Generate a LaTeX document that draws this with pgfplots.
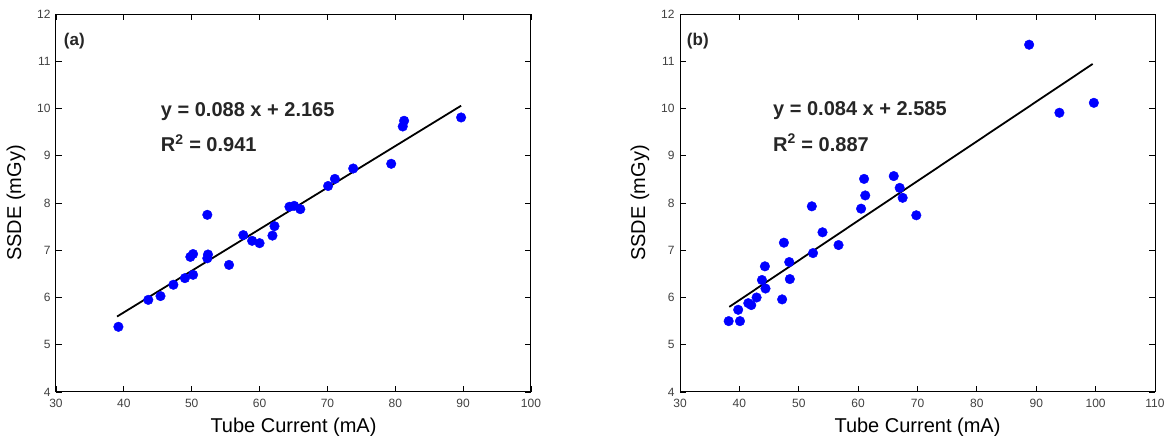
\documentclass[border=0pt]{standalone}
\usepackage{pgfplots}
\pgfplotsset{compat=1.18}
\usepackage{fontspec}
\setmainfont{Liberation Sans}

\pgfplotstableread{
x y
39.2 5.38
43.6 5.95
45.4 6.03
47.3 6.27
49.0 6.41
50.2 6.48
49.8 6.86
50.2 6.92
52.3 7.75
52.3 6.83
52.4 6.91
55.5 6.69
57.6 7.32
58.9 7.20
60.0 7.15
61.9 7.31
62.2 7.51
64.4 7.92
65.1 7.94
66.0 7.87
70.1 8.36
71.1 8.51
73.8 8.73
79.4 8.83
81.1 9.62
81.3 9.74
89.7 9.81
}\dataA

\pgfplotstableread{
x y
38.2 5.50
39.8 5.74
40.1 5.50
41.5 5.88
42.0 5.84
42.9 6.00
43.8 6.37
44.3 6.66
44.4 6.19
47.2 5.96
47.5 7.16
48.4 6.75
48.5 6.39
52.2 7.93
52.4 6.94
54.0 7.38
56.7 7.11
60.5 7.88
61.0 8.51
61.2 8.16
66.0 8.57
67.0 8.32
67.5 8.11
69.8 7.74
88.8 11.35
93.9 9.91
99.7 10.12
}\dataB

% linear fits
\pgfplotstableread{
x y
39.0 5.597
89.7 10.059
}\fitA
\pgfplotstableread{
x y
38.3 5.802
99.5 10.943
}\fitB

\pgfplotsset{
  panel/.style={
    scale only axis,
    width=475pt, height=378pt,
    ymin=4, ymax=12, ytick={4,5,...,12},
    tick align=inside,
    xtick pos=both, ytick pos=both,
    major tick length=6pt,
    tick style={black, line width=0.8pt},
    axis line style={black, line width=1pt},
    /pgf/number format/assume math mode=true,
    ticklabel style={font=\fontsize{12}{14}\selectfont, text=black!75},
    xticklabel style={yshift=-4pt},
    yticklabel style={xshift=-2pt},
    xlabel={Tube Current (mA)},
    ylabel={SSDE (mGy)},
    label style={font=\fontsize{20}{22}\selectfont},
    xlabel style={at={(axis description cs:0.5,0)}, anchor=base, yshift=-41pt},
    ylabel style={at={(axis description cs:0,0.5)}, anchor=center, rotate=0, yshift=40pt},
  },
  pts/.style={only marks, mark=*, mark size=4.8pt, blue, mark options={draw=blue, fill=blue}},
  fit/.style={black, line width=1.8pt, no marks},
}
\tikzset{
  eq/.style={anchor=base west, font=\fontsize{20}{22}\selectfont\bfseries, text=black!85},
  tag/.style={anchor=center, font=\fontsize{17}{19}\selectfont\bfseries, text=black!85},
}

\begin{document}
\begin{tikzpicture}[x=1pt,y=1pt]
\useasboundingbox (0,0) rectangle (1171,436);

\begin{axis}[panel, at={(56pt,44pt)}, anchor=south west,
  xmin=30, xmax=100, xtick={30,40,...,100}]
  \addplot[pts] table {\dataA};
  \addplot[fit] table {\fitA};
  \node[tag] at (axis cs:32.7,11.42) {(a)};
  \node[eq] at (axis cs:44.95,9.84) {y = 0.088 x + 2.165};
  \node[eq] at (axis cs:44.95,9.08) {R$^{\mathbf{2}}$ = 0.941};
\end{axis}

\begin{axis}[panel, at={(680pt,44pt)}, anchor=south west,
  xmin=30, xmax=110, xtick={30,40,...,110}]
  \addplot[pts] table {\dataB};
  \addplot[fit] table {\fitB};
  \node[tag] at (axis cs:33.0,11.42) {(b)};
  \node[eq] at (axis cs:45.1,9.855) {y = 0.084 x + 2.585};
  \node[eq] at (axis cs:45.1,9.10) {R$^{\mathbf{2}}$ = 0.887};
\end{axis}
\end{tikzpicture}
\end{document}
